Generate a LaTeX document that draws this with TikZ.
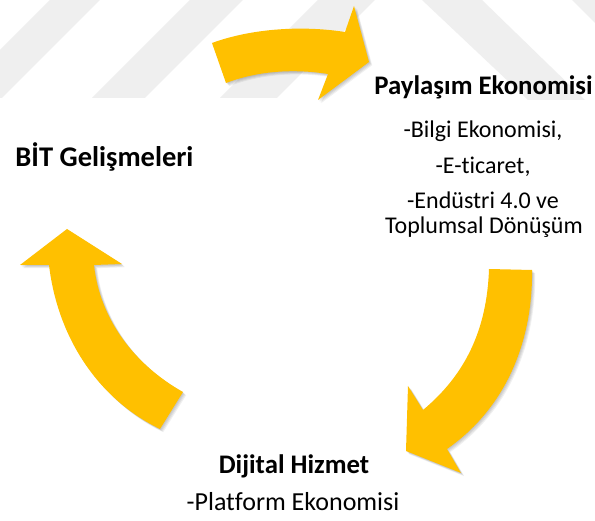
\documentclass[tikz,border=0pt]{standalone}
\usepackage{fontspec}
\setmainfont{Carlito}[Ligatures=NoCommon]
\definecolor{arrowgold}{HTML}{FFC000}
\definecolor{wmgrey}{HTML}{EFEFEF}
\tikzset{
  wmstripe/.style={fill=wmgrey},
  goldarrow/.style={fill=arrowgold},
  arrowshadow/.style={fill=black,opacity=0.06},
  titletext/.style={font=\fontsize{26.8}{30}\selectfont\bfseries,anchor=base,inner sep=0pt},
  bigtitletext/.style={font=\fontsize{28.5}{32}\selectfont\bfseries,anchor=base,inner sep=0pt},
  bodytext/.style={font=\fontsize{24}{28}\selectfont,anchor=base,inner sep=0pt},
  bigbodytext/.style={font=\fontsize{26}{30}\selectfont,anchor=base,inner sep=0pt},
}
\def\toparrow{(212,43) .. controls (250,29) and (300,25) .. (345,32) -- (354,6) -- (369,62) -- (318,100) -- (328,74) .. controls (290,68) and (255,72) .. (226,83) -- cycle}
\def\leftarrowshape{(160,429) .. controls (100,400) and (58,340) .. (49,265) -- (20,265) -- (67,229) -- (122,264) -- (94,265) .. controls (100,320) and (135,365) .. (183,392) -- cycle}
\def\rightarrowshape{(489,269) .. controls (487,330) and (465,375) .. (423,410) -- (408,386) -- (406,451) -- (461,473) -- (447,449) .. controls (510,405) and (533,335) .. (532,270) -- cycle}
\begin{document}
\begin{tikzpicture}[x=1pt,y=-1pt]
\useasboundingbox[fill=white] (0,0) rectangle (595,521);
% watermark stripes
\fill[wmstripe] (50,0) -- (100,0) -- (2,98) -- (0,98) -- (0,50) -- cycle;
\fill[wmstripe] (190,0) -- (243,0) -- (145,98) -- (92,98) -- cycle;
\fill[wmstripe] (318,0) -- (375,0) -- (277,98) -- (220,98) -- cycle;
\fill[wmstripe] (422,0) -- (482,0) -- (585,100) -- (528,100) -- cycle;
\fill[wmstripe] (572,0) -- (595,0) -- (595,23) -- cycle;
% shadows
\foreach \s in {0.8,1.6,2.4,3.2}{
  \fill[arrowshadow,shift={(\s,\s)}] \toparrow;
  \fill[arrowshadow,shift={(\s,\s)}] \leftarrowshape;
  \fill[arrowshadow,shift={(\s,\s)}] \rightarrowshape;
}
% arrows
\fill[goldarrow] \toparrow;
\fill[goldarrow] \leftarrowshape;
\fill[goldarrow] \rightarrowshape;
% texts
\node[titletext] (pay) at (483.5,95) {Paylaşım Ekonomisi};
\node[bodytext] (bilgi) at (483,138) {-Bilgi Ekonomisi,};
\node[bodytext] (eti) at (483,174) {-E-ticaret,};
\node[bodytext] (endu) at (483,209) {-Endüstri 4.0 ve};
\node[bodytext] (toplum) at (484,234) {Toplumsal Dönüşüm};
\node[bigtitletext] (bit) at (104.5,167) {BİT Gelişmeleri};
\node[titletext] (dij) at (294,474) {Dijital Hizmet};
\node[bigbodytext] (plat) at (293,511) {-Platform Ekonomisi};
\end{tikzpicture}
\end{document}
